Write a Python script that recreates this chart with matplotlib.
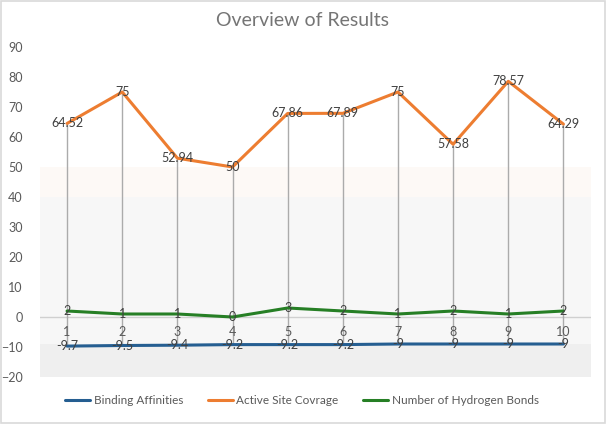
import matplotlib.pyplot as plt
import numpy as np

# chart data
compounds = ['1', '2', '3', '4', '5', '6', '7', '8', '9', '10']
binding = [-9.7, -9.5, -9.4, -9.2, -9.2, -9.2, -9, -9, -9, -9]
coverage = [64.52, 75, 52.94, 50, 67.86, 67.89, 75, 57.58, 78.57, 64.29]
hbonds = [2, 1, 1, 0, 3, 2, 1, 2, 1, 2]
yticks = [-20, -10, 0, 10, 20, 30, 40, 50, 60, 70, 80, 90]

plt.rcParams['font.family'] = ['Lato', 'DejaVu Sans']

fig = plt.figure(figsize=(6.06, 4.24), dpi=100)
ax = fig.add_axes([39.5 / 606, 1 - 377 / 424, (591 - 39.5) / 606, (377 - 47) / 424])

x = np.arange(1, len(compounds) + 1)

# soft background bands like the original
ax.axhspan(40, 50, color='#fdf9f6', lw=0, zorder=0)
ax.axhspan(-9, 40, color='#f7f7f7', lw=0, zorder=0)
ax.axhspan(-20, -9, color='#efefef', lw=0, zorder=0)

# zero line
ax.axhline(0, color='#d0d0d0', lw=1, zorder=1)

# drop lines
tops = np.maximum(np.maximum(binding, coverage), hbonds)
bots = np.minimum(np.minimum(binding, coverage), hbonds)
ax.vlines(x, bots, tops, color='#ababab', lw=1, zorder=2)

series = [
    (binding, '#255e91', 'Binding Affinities'),
    (coverage, '#ed7d31', 'Active Site Covrage'),
    (hbonds, '#267f25', 'Number of Hydrogen Bonds'),
]
for vals, col, lab in series:
    ax.plot(x, vals, color=col, lw=2.2, label=lab, zorder=3, solid_capstyle='round')
    for xi, v in zip(x, vals):
        ax.text(xi, v, '{0:g}'.format(v), ha='center', va='center', fontsize=9,
                color='#404040', zorder=4)

# category labels sitting under the zero line
for xi, c in zip(x, compounds):
    ax.text(xi, -5, c, ha='center', va='center', fontsize=9, color='#595959')

ax.set_xlim(0.5, 10.5)
ax.set_ylim(-20, 90)
ax.set_yticks(yticks)
ax.set_xticks([])
ax.tick_params(axis='y', length=0, labelsize=9, labelcolor='#595959', pad=12)
for s in ax.spines.values():
    s.set_visible(False)

fig.text(0.5, 1 - 20 / 424, 'Overview of Results', ha='center', va='center',
         fontsize=14, color='#757575')

fig.legend(loc='center', bbox_to_anchor=(302 / 606, 1 - 401 / 424), ncol=3, frameon=False,
           fontsize=8.5, handlelength=2.1, handletextpad=0.3, columnspacing=2.1,
           labelcolor='#595959')

# outer chart border
fig.patches.append(plt.Rectangle((0.002, 0.002), 0.996, 0.996, transform=fig.transFigure,
                                 fill=False, edgecolor='#d9d9d9', lw=1.2))

plt.savefig('out.png', dpi=100)
plt.close()
